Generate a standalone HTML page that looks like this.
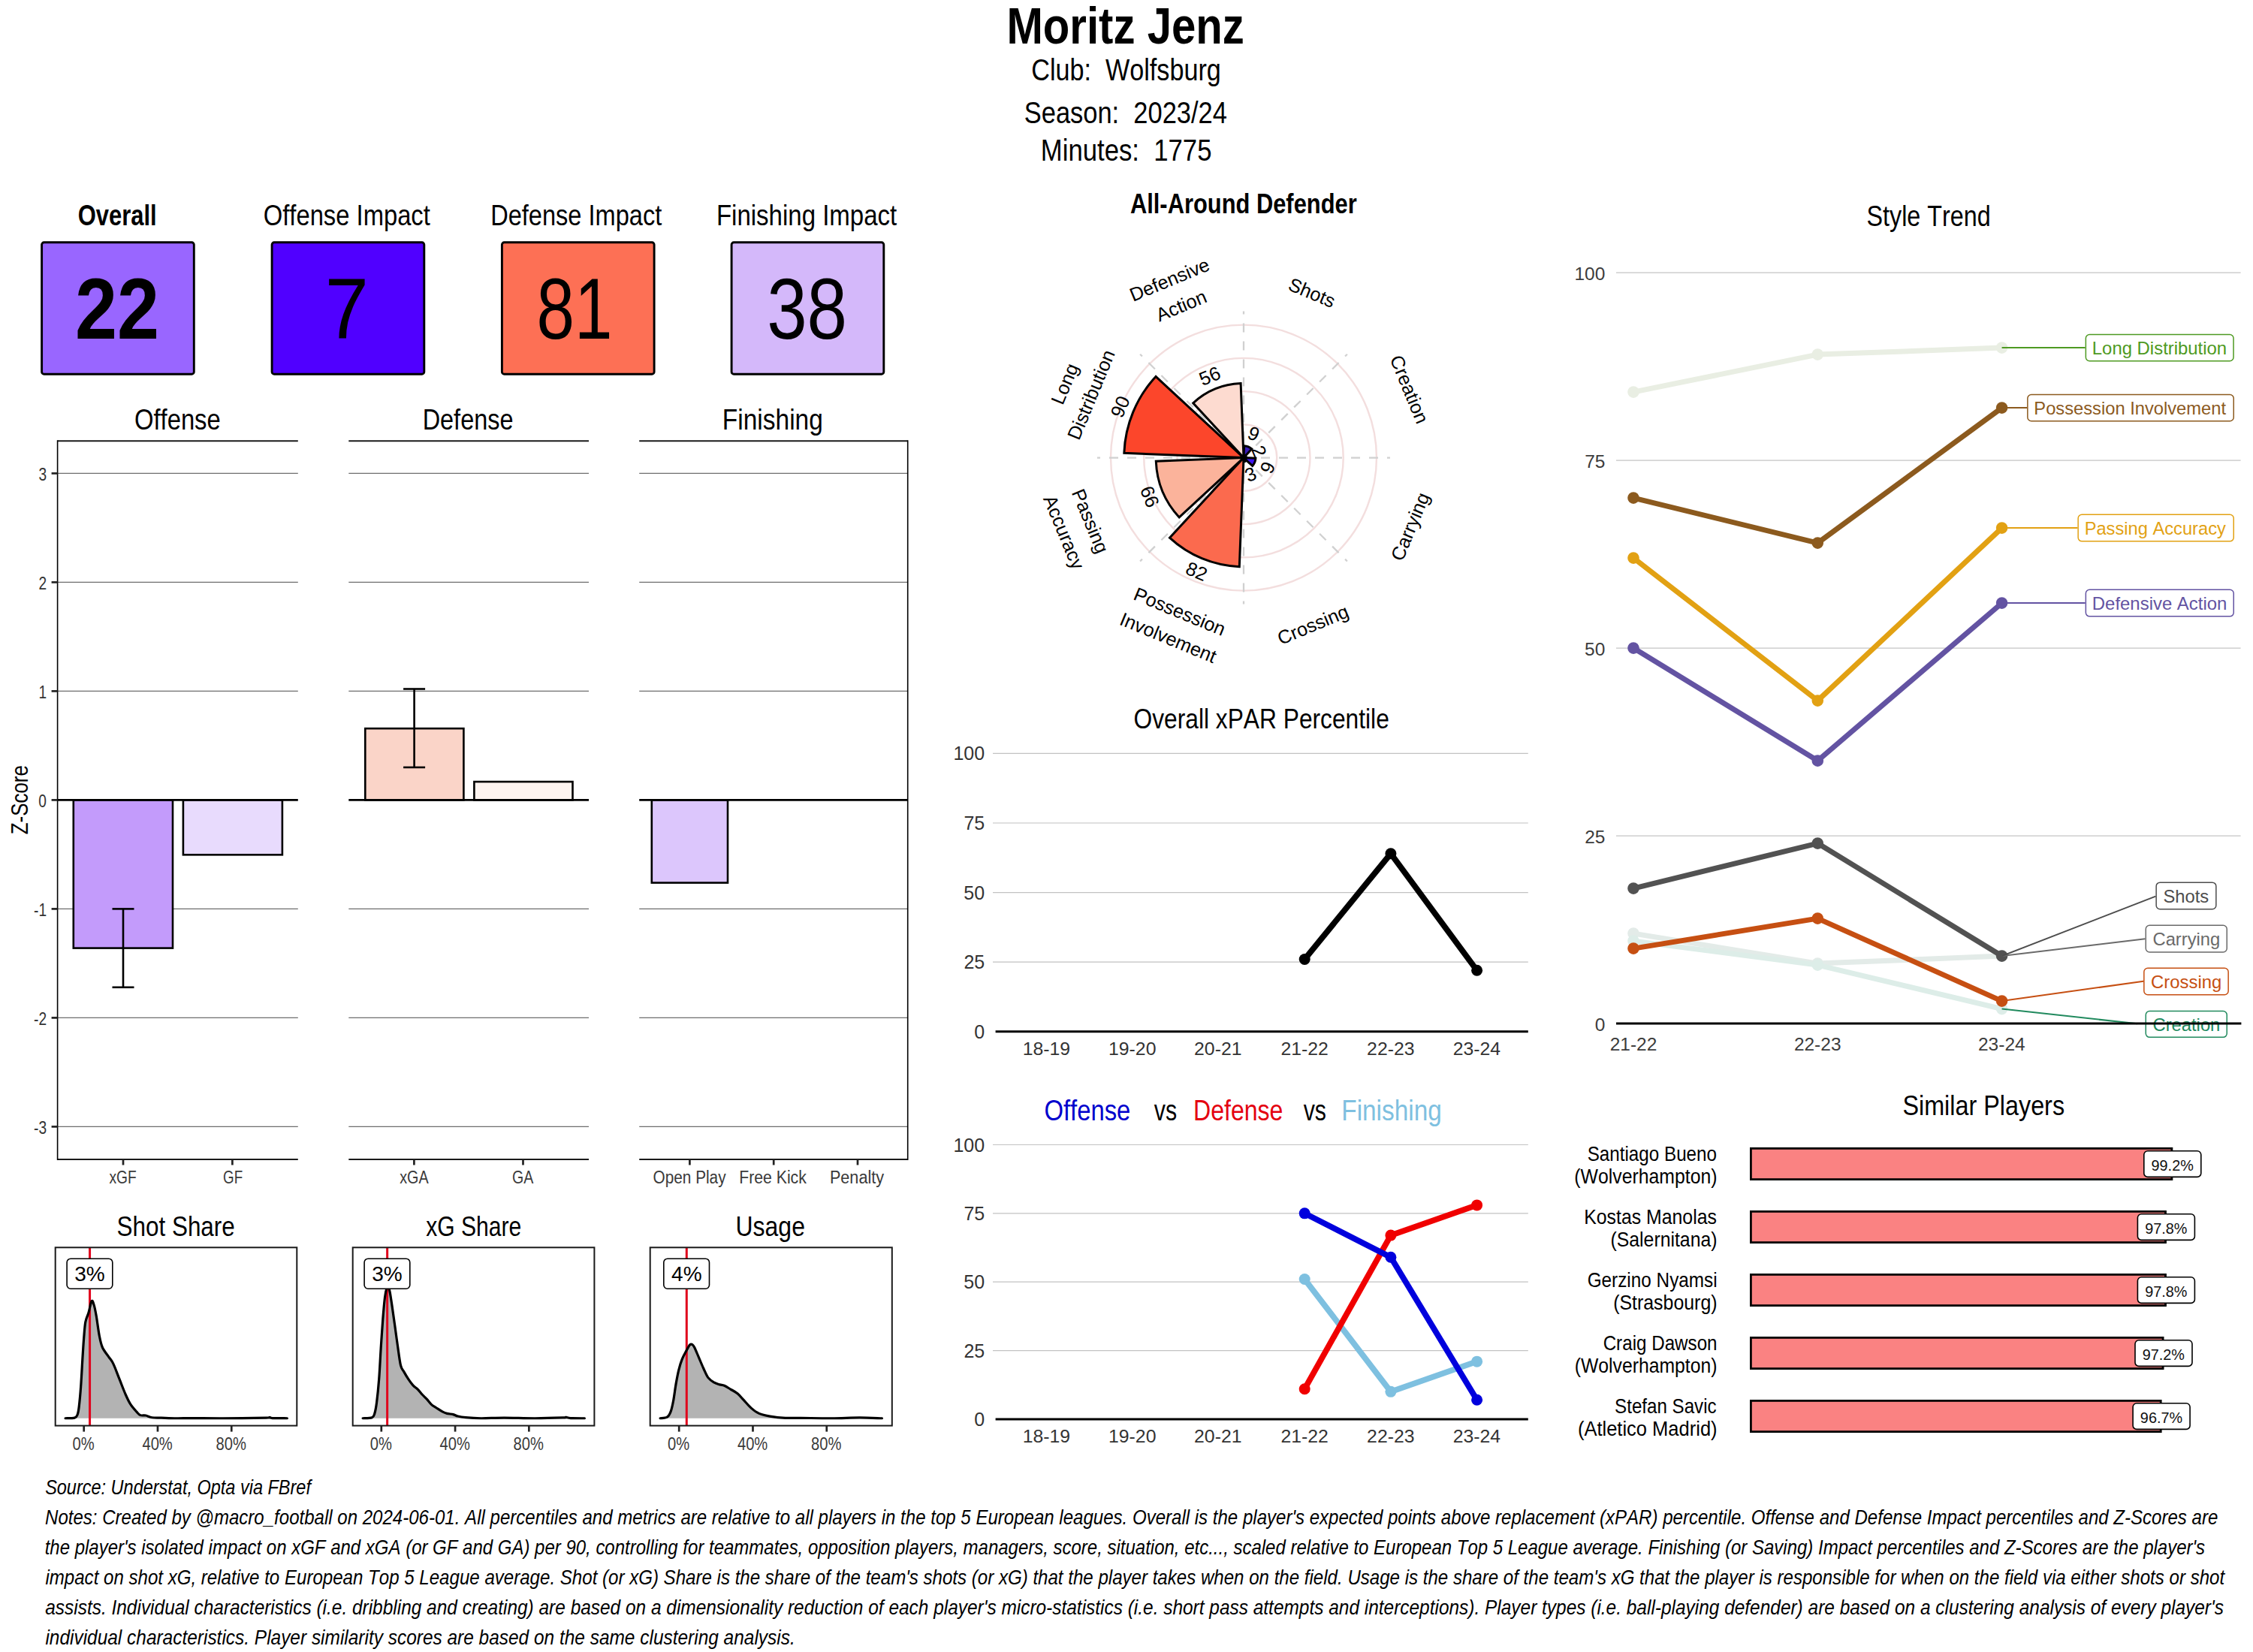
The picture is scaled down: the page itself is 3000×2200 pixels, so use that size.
<!DOCTYPE html>
<html><head><meta charset="utf-8"><style>
html,body{margin:0;padding:0;background:#fff;}
svg{display:block;font-family:"Liberation Sans", sans-serif;font-kerning:none;} text{white-space:pre;}
</style></head><body>
<svg width="3000" height="2200" viewBox="0 0 3000 2200">
<rect x="0" y="0" width="3000" height="2200" fill="#fff"/>
<text x="1340.41" y="58.30" font-size="68.02" font-weight="bold" font-style="normal" fill="#000" textLength="316.49" lengthAdjust="spacingAndGlyphs" >Moritz Jenz</text>
<text x="1373.27" y="106.70" font-size="41.28" font-weight="normal" font-style="normal" fill="#000" textLength="252.54" lengthAdjust="spacingAndGlyphs" >Club:  Wolfsburg</text>
<text x="1363.74" y="164.00" font-size="40.99" font-weight="normal" font-style="normal" fill="#000" textLength="270.17" lengthAdjust="spacingAndGlyphs" >Season:  2023/24</text>
<text x="1385.85" y="214.00" font-size="40.70" font-weight="normal" font-style="normal" fill="#000" textLength="227.60" lengthAdjust="spacingAndGlyphs" >Minutes:  1775</text>
<rect x="55.60" y="322.80" width="202.70" height="175.40" fill="#9966FF" stroke="#000" stroke-width="2.9" rx="3" />
<text x="103.73" y="300.10" font-size="39.24" font-weight="bold" font-style="normal" fill="#000" textLength="104.96" lengthAdjust="spacingAndGlyphs" >Overall</text>
<text x="100.11" y="451.00" font-size="114.29" font-weight="bold" font-style="normal" fill="#000" textLength="111.92" lengthAdjust="spacingAndGlyphs" >22</text>
<rect x="362.10" y="322.80" width="202.70" height="175.40" fill="#5000FF" stroke="#000" stroke-width="2.9" rx="3" />
<text x="350.75" y="300.10" font-size="39.24" font-weight="normal" font-style="normal" fill="#000" textLength="222.09" lengthAdjust="spacingAndGlyphs" >Offense Impact</text>
<text x="432.64" y="451.00" font-size="114.29" font-weight="normal" font-style="normal" fill="#000" textLength="58.11" lengthAdjust="spacingAndGlyphs" >7</text>
<rect x="668.40" y="322.80" width="202.70" height="175.40" fill="#FD7055" stroke="#000" stroke-width="2.9" rx="3" />
<text x="653.13" y="300.10" font-size="39.24" font-weight="normal" font-style="normal" fill="#000" textLength="228.11" lengthAdjust="spacingAndGlyphs" >Defense Impact</text>
<text x="714.56" y="451.00" font-size="114.29" font-weight="normal" font-style="normal" fill="#000" textLength="100.87" lengthAdjust="spacingAndGlyphs" >81</text>
<rect x="974.10" y="322.80" width="202.70" height="175.40" fill="#D4B8FA" stroke="#000" stroke-width="2.9" rx="3" />
<text x="953.89" y="300.10" font-size="39.24" font-weight="normal" font-style="normal" fill="#000" textLength="240.35" lengthAdjust="spacingAndGlyphs" >Finishing Impact</text>
<text x="1021.14" y="451.00" font-size="114.29" font-weight="normal" font-style="normal" fill="#000" textLength="106.94" lengthAdjust="spacingAndGlyphs" >38</text>
<text x="178.95" y="572.00" font-size="39.24" font-weight="normal" font-style="normal" fill="#000" textLength="114.81" lengthAdjust="spacingAndGlyphs" >Offense</text>
<text x="562.64" y="572.00" font-size="39.24" font-weight="normal" font-style="normal" fill="#000" textLength="120.91" lengthAdjust="spacingAndGlyphs" >Defense</text>
<text x="961.85" y="572.00" font-size="39.24" font-weight="normal" font-style="normal" fill="#000" textLength="134.01" lengthAdjust="spacingAndGlyphs" >Finishing</text>
<line x1="76.50" y1="630.40" x2="396.80" y2="630.40" stroke="#6E6E6E" stroke-width="1.1" />
<line x1="76.50" y1="775.40" x2="396.80" y2="775.40" stroke="#6E6E6E" stroke-width="1.1" />
<line x1="76.50" y1="920.40" x2="396.80" y2="920.40" stroke="#6E6E6E" stroke-width="1.1" />
<line x1="76.50" y1="1210.40" x2="396.80" y2="1210.40" stroke="#6E6E6E" stroke-width="1.1" />
<line x1="76.50" y1="1355.40" x2="396.80" y2="1355.40" stroke="#6E6E6E" stroke-width="1.1" />
<line x1="76.50" y1="1500.40" x2="396.80" y2="1500.40" stroke="#6E6E6E" stroke-width="1.1" />
<line x1="464.30" y1="630.40" x2="784.00" y2="630.40" stroke="#6E6E6E" stroke-width="1.1" />
<line x1="464.30" y1="775.40" x2="784.00" y2="775.40" stroke="#6E6E6E" stroke-width="1.1" />
<line x1="464.30" y1="920.40" x2="784.00" y2="920.40" stroke="#6E6E6E" stroke-width="1.1" />
<line x1="464.30" y1="1210.40" x2="784.00" y2="1210.40" stroke="#6E6E6E" stroke-width="1.1" />
<line x1="464.30" y1="1355.40" x2="784.00" y2="1355.40" stroke="#6E6E6E" stroke-width="1.1" />
<line x1="464.30" y1="1500.40" x2="784.00" y2="1500.40" stroke="#6E6E6E" stroke-width="1.1" />
<line x1="851.20" y1="630.40" x2="1208.70" y2="630.40" stroke="#6E6E6E" stroke-width="1.1" />
<line x1="851.20" y1="775.40" x2="1208.70" y2="775.40" stroke="#6E6E6E" stroke-width="1.1" />
<line x1="851.20" y1="920.40" x2="1208.70" y2="920.40" stroke="#6E6E6E" stroke-width="1.1" />
<line x1="851.20" y1="1210.40" x2="1208.70" y2="1210.40" stroke="#6E6E6E" stroke-width="1.1" />
<line x1="851.20" y1="1355.40" x2="1208.70" y2="1355.40" stroke="#6E6E6E" stroke-width="1.1" />
<line x1="851.20" y1="1500.40" x2="1208.70" y2="1500.40" stroke="#6E6E6E" stroke-width="1.1" />
<rect x="97.80" y="1065.40" width="132.20" height="197.20" fill="#C39BFB" stroke="#000" stroke-width="2.6" rx="0" />
<rect x="243.90" y="1065.40" width="132.00" height="72.93" fill="#E8DBFD" stroke="#000" stroke-width="2.6" rx="0" />
<rect x="486.30" y="970.14" width="131.10" height="95.26" fill="#FAD4C8" stroke="#000" stroke-width="2.6" rx="0" />
<rect x="631.40" y="1041.04" width="131.10" height="24.36" fill="#FDF4F0" stroke="#000" stroke-width="2.6" rx="0" />
<rect x="867.80" y="1065.40" width="101.20" height="110.20" fill="#DCC6FC" stroke="#000" stroke-width="2.6" rx="0" />
<line x1="76.50" y1="1065.40" x2="396.80" y2="1065.40" stroke="#000" stroke-width="2.6" />
<line x1="76.50" y1="587.20" x2="396.80" y2="587.20" stroke="#1A1A1A" stroke-width="1.9" />
<line x1="76.50" y1="1544.00" x2="396.80" y2="1544.00" stroke="#1A1A1A" stroke-width="1.9" />
<line x1="464.30" y1="1065.40" x2="784.00" y2="1065.40" stroke="#000" stroke-width="2.6" />
<line x1="464.30" y1="587.20" x2="784.00" y2="587.20" stroke="#1A1A1A" stroke-width="1.9" />
<line x1="464.30" y1="1544.00" x2="784.00" y2="1544.00" stroke="#1A1A1A" stroke-width="1.9" />
<line x1="851.20" y1="1065.40" x2="1208.70" y2="1065.40" stroke="#000" stroke-width="2.6" />
<line x1="851.20" y1="587.20" x2="1208.70" y2="587.20" stroke="#1A1A1A" stroke-width="1.9" />
<line x1="851.20" y1="1544.00" x2="1208.70" y2="1544.00" stroke="#1A1A1A" stroke-width="1.9" />
<line x1="76.60" y1="586.20" x2="76.60" y2="1545.00" stroke="#000" stroke-width="1.6" />
<line x1="1208.70" y1="586.20" x2="1208.70" y2="1545.00" stroke="#000" stroke-width="1.6" />
<line x1="164.00" y1="1210.40" x2="164.00" y2="1314.80" stroke="#000" stroke-width="2.6" />
<line x1="149.50" y1="1210.40" x2="178.50" y2="1210.40" stroke="#000" stroke-width="2.6" />
<line x1="149.50" y1="1314.80" x2="178.50" y2="1314.80" stroke="#000" stroke-width="2.6" />
<line x1="551.60" y1="917.50" x2="551.60" y2="1021.90" stroke="#000" stroke-width="2.6" />
<line x1="537.10" y1="917.50" x2="566.10" y2="917.50" stroke="#000" stroke-width="2.6" />
<line x1="537.10" y1="1021.90" x2="566.10" y2="1021.90" stroke="#000" stroke-width="2.6" />
<line x1="68.60" y1="630.40" x2="76.60" y2="630.40" stroke="#222" stroke-width="2.7" />
<text x="51.38" y="640.00" font-size="24.57" font-weight="normal" font-style="normal" fill="#333333" textLength="10.66" lengthAdjust="spacingAndGlyphs" >3</text>
<line x1="68.60" y1="775.40" x2="76.60" y2="775.40" stroke="#222" stroke-width="2.7" />
<text x="51.50" y="785.00" font-size="24.57" font-weight="normal" font-style="normal" fill="#333333" textLength="10.66" lengthAdjust="spacingAndGlyphs" >2</text>
<line x1="68.60" y1="920.40" x2="76.60" y2="920.40" stroke="#222" stroke-width="2.7" />
<text x="51.48" y="930.00" font-size="24.57" font-weight="normal" font-style="normal" fill="#333333" textLength="10.66" lengthAdjust="spacingAndGlyphs" >1</text>
<line x1="68.60" y1="1065.40" x2="76.60" y2="1065.40" stroke="#222" stroke-width="2.7" />
<text x="51.29" y="1075.00" font-size="24.57" font-weight="normal" font-style="normal" fill="#333333" textLength="10.66" lengthAdjust="spacingAndGlyphs" >0</text>
<line x1="68.60" y1="1210.40" x2="76.60" y2="1210.40" stroke="#222" stroke-width="2.7" />
<text x="45.09" y="1220.00" font-size="24.57" font-weight="normal" font-style="normal" fill="#333333" textLength="17.04" lengthAdjust="spacingAndGlyphs" >-1</text>
<line x1="68.60" y1="1355.40" x2="76.60" y2="1355.40" stroke="#222" stroke-width="2.7" />
<text x="45.12" y="1365.00" font-size="24.57" font-weight="normal" font-style="normal" fill="#333333" textLength="17.04" lengthAdjust="spacingAndGlyphs" >-2</text>
<line x1="68.60" y1="1500.40" x2="76.60" y2="1500.40" stroke="#222" stroke-width="2.7" />
<text x="45.00" y="1510.00" font-size="24.57" font-weight="normal" font-style="normal" fill="#333333" textLength="17.04" lengthAdjust="spacingAndGlyphs" >-3</text>
<line x1="164.00" y1="1544.00" x2="164.00" y2="1551.50" stroke="#222" stroke-width="2.7" />
<text x="145.48" y="1575.80" font-size="24.42" font-weight="normal" font-style="normal" fill="#3A3A3A" textLength="36.28" lengthAdjust="spacingAndGlyphs" >xGF</text>
<line x1="309.40" y1="1544.00" x2="309.40" y2="1551.50" stroke="#222" stroke-width="2.7" />
<text x="297.05" y="1575.80" font-size="24.42" font-weight="normal" font-style="normal" fill="#3A3A3A" textLength="26.10" lengthAdjust="spacingAndGlyphs" >GF</text>
<line x1="551.40" y1="1544.00" x2="551.40" y2="1551.50" stroke="#222" stroke-width="2.7" />
<text x="532.18" y="1575.80" font-size="24.42" font-weight="normal" font-style="normal" fill="#3A3A3A" textLength="38.36" lengthAdjust="spacingAndGlyphs" >xGA</text>
<line x1="696.50" y1="1544.00" x2="696.50" y2="1551.50" stroke="#222" stroke-width="2.7" />
<text x="682.01" y="1575.80" font-size="24.42" font-weight="normal" font-style="normal" fill="#3A3A3A" textLength="28.32" lengthAdjust="spacingAndGlyphs" >GA</text>
<line x1="918.40" y1="1544.00" x2="918.40" y2="1551.50" stroke="#222" stroke-width="2.7" />
<text x="869.62" y="1575.80" font-size="24.42" font-weight="normal" font-style="normal" fill="#3A3A3A" textLength="96.92" lengthAdjust="spacingAndGlyphs" >Open Play</text>
<line x1="1030.20" y1="1544.00" x2="1030.20" y2="1551.50" stroke="#222" stroke-width="2.7" />
<text x="984.16" y="1575.80" font-size="24.42" font-weight="normal" font-style="normal" fill="#3A3A3A" textLength="89.71" lengthAdjust="spacingAndGlyphs" >Free Kick</text>
<line x1="1142.00" y1="1544.00" x2="1142.00" y2="1551.50" stroke="#222" stroke-width="2.7" />
<text x="1104.93" y="1575.80" font-size="24.42" font-weight="normal" font-style="normal" fill="#3A3A3A" textLength="72.12" lengthAdjust="spacingAndGlyphs" >Penalty</text>
<g transform="translate(26.60,1065.40) rotate(-90.00)">
<text x="-45.95" y="10.75" font-size="31.25" font-weight="normal" font-style="normal" fill="#000" textLength="92.24" lengthAdjust="spacingAndGlyphs" >Z-Score</text>
</g>
<path d="M87.04,1888.74 C89.10,1888.64 96.72,1888.91 99.39,1888.13 C102.07,1887.34 102.14,1886.41 103.10,1884.01 C104.06,1881.61 104.40,1879.89 105.16,1873.72 C105.91,1867.54 106.80,1858.28 107.63,1846.96 C108.45,1835.65 109.41,1816.78 110.09,1805.80 C110.78,1794.83 111.12,1788.65 111.74,1781.11 C112.36,1773.56 112.77,1766.01 113.80,1760.53 C114.83,1755.04 116.54,1752.81 117.92,1748.18 C119.29,1743.55 120.83,1734.46 122.03,1732.74 C123.23,1731.03 124.09,1734.63 125.12,1737.89 C126.15,1741.15 127.00,1745.43 128.21,1752.29 C129.41,1759.15 130.95,1772.02 132.32,1779.05 C133.69,1786.08 134.38,1789.85 136.44,1794.48 C138.50,1799.12 142.27,1803.23 144.67,1806.83 C147.07,1810.43 148.44,1811.12 150.84,1816.09 C153.24,1821.07 156.33,1829.81 159.08,1836.67 C161.82,1843.53 164.91,1851.77 167.31,1857.25 C169.71,1862.74 171.08,1865.83 173.48,1869.60 C175.88,1873.38 179.48,1877.39 181.71,1879.89 C183.94,1882.40 184.80,1883.77 186.86,1884.63 C188.92,1885.48 191.49,1884.52 194.06,1885.04 C196.64,1885.55 198.86,1887.20 202.29,1887.71 C205.72,1888.23 209.15,1887.95 214.64,1888.13 C220.13,1888.30 228.36,1888.67 235.22,1888.74 C242.08,1888.81 245.51,1888.54 255.80,1888.54 C266.09,1888.54 280.50,1888.81 296.96,1888.74 C313.43,1888.67 344.30,1888.33 354.59,1888.13 C364.88,1887.92 357.33,1887.44 358.71,1887.51 C360.08,1887.58 358.88,1888.33 362.82,1888.54 C366.77,1888.74 379.11,1888.71 382.37,1888.74 L382.37,1888.74 L87.04,1888.74 Z" fill="#B3B3B3" stroke="none"/>
<line x1="119.56" y1="1661.30" x2="119.56" y2="1898.40" stroke="#E0001B" stroke-width="3" />
<path d="M87.04,1888.74 C89.10,1888.64 96.72,1888.91 99.39,1888.13 C102.07,1887.34 102.14,1886.41 103.10,1884.01 C104.06,1881.61 104.40,1879.89 105.16,1873.72 C105.91,1867.54 106.80,1858.28 107.63,1846.96 C108.45,1835.65 109.41,1816.78 110.09,1805.80 C110.78,1794.83 111.12,1788.65 111.74,1781.11 C112.36,1773.56 112.77,1766.01 113.80,1760.53 C114.83,1755.04 116.54,1752.81 117.92,1748.18 C119.29,1743.55 120.83,1734.46 122.03,1732.74 C123.23,1731.03 124.09,1734.63 125.12,1737.89 C126.15,1741.15 127.00,1745.43 128.21,1752.29 C129.41,1759.15 130.95,1772.02 132.32,1779.05 C133.69,1786.08 134.38,1789.85 136.44,1794.48 C138.50,1799.12 142.27,1803.23 144.67,1806.83 C147.07,1810.43 148.44,1811.12 150.84,1816.09 C153.24,1821.07 156.33,1829.81 159.08,1836.67 C161.82,1843.53 164.91,1851.77 167.31,1857.25 C169.71,1862.74 171.08,1865.83 173.48,1869.60 C175.88,1873.38 179.48,1877.39 181.71,1879.89 C183.94,1882.40 184.80,1883.77 186.86,1884.63 C188.92,1885.48 191.49,1884.52 194.06,1885.04 C196.64,1885.55 198.86,1887.20 202.29,1887.71 C205.72,1888.23 209.15,1887.95 214.64,1888.13 C220.13,1888.30 228.36,1888.67 235.22,1888.74 C242.08,1888.81 245.51,1888.54 255.80,1888.54 C266.09,1888.54 280.50,1888.81 296.96,1888.74 C313.43,1888.67 344.30,1888.33 354.59,1888.13 C364.88,1887.92 357.33,1887.44 358.71,1887.51 C360.08,1887.58 358.88,1888.33 362.82,1888.54 C366.77,1888.74 379.11,1888.71 382.37,1888.74" fill="none" stroke="#000" stroke-width="3.2" stroke-linejoin="round" stroke-linecap="round"/>
<rect x="73.70" y="1661.30" width="321.60" height="237.30" fill="none" stroke="#1A1A1A" stroke-width="2" rx="0" />
<rect x="89.10" y="1676.20" width="60.70" height="40.00" fill="#fff" stroke="#000" stroke-width="1.6" rx="5" />
<text x="99.18" y="1706.00" font-size="28.00" font-weight="normal" font-style="normal" fill="#000" textLength="40.47" lengthAdjust="spacingAndGlyphs" >3%</text>
<line x1="111.70" y1="1898.60" x2="111.70" y2="1906.60" stroke="#222" stroke-width="2.7" />
<text x="96.60" y="1931.00" font-size="24.29" font-weight="normal" font-style="normal" fill="#3A3A3A" textLength="29.13" lengthAdjust="spacingAndGlyphs" >0%</text>
<line x1="209.98" y1="1898.60" x2="209.98" y2="1906.60" stroke="#222" stroke-width="2.7" />
<text x="189.44" y="1931.00" font-size="24.29" font-weight="normal" font-style="normal" fill="#3A3A3A" textLength="40.34" lengthAdjust="spacingAndGlyphs" >40%</text>
<line x1="308.26" y1="1898.60" x2="308.26" y2="1906.60" stroke="#222" stroke-width="2.7" />
<text x="287.51" y="1931.00" font-size="24.29" font-weight="normal" font-style="normal" fill="#3A3A3A" textLength="40.34" lengthAdjust="spacingAndGlyphs" >80%</text>
<text x="155.57" y="1645.70" font-size="37.79" font-weight="normal" font-style="normal" fill="#000" textLength="157.22" lengthAdjust="spacingAndGlyphs" >Shot Share</text>
<path d="M483.07,1888.74 C485.13,1888.57 492.78,1888.85 495.42,1887.71 C498.06,1886.58 497.89,1885.31 498.92,1881.95 C499.95,1878.59 500.64,1875.09 501.60,1867.54 C502.56,1860.00 503.76,1848.68 504.68,1836.67 C505.61,1824.67 506.30,1808.89 507.15,1795.51 C508.01,1782.14 508.94,1767.73 509.83,1756.41 C510.72,1745.09 511.65,1734.46 512.50,1727.60 C513.36,1720.74 514.22,1717.65 514.97,1715.25 C515.73,1712.85 516.35,1712.33 517.03,1713.19 C517.72,1714.05 518.23,1715.94 519.09,1720.40 C519.95,1724.85 521.08,1732.57 522.18,1739.95 C523.27,1747.32 524.47,1756.07 525.68,1764.64 C526.88,1773.22 528.08,1782.48 529.38,1791.40 C530.68,1800.32 532.12,1812.32 533.50,1818.15 C534.87,1823.98 535.90,1823.30 537.61,1826.38 C539.33,1829.47 541.73,1833.59 543.79,1836.67 C545.84,1839.76 547.90,1842.68 549.96,1844.91 C552.02,1847.14 554.08,1847.99 556.13,1850.05 C558.19,1852.11 560.25,1855.03 562.31,1857.25 C564.37,1859.48 566.42,1861.20 568.48,1863.43 C570.54,1865.66 572.60,1868.75 574.66,1870.63 C576.71,1872.52 578.43,1873.20 580.83,1874.75 C583.23,1876.29 586.66,1878.62 589.06,1879.89 C591.46,1881.16 592.84,1881.75 595.24,1882.36 C597.64,1882.98 601.07,1882.98 603.47,1883.60 C605.87,1884.21 606.90,1885.38 609.64,1886.07 C612.39,1886.75 614.79,1887.27 619.93,1887.71 C625.08,1888.16 631.94,1888.67 640.51,1888.74 C649.09,1888.81 659.38,1888.13 671.38,1888.13 C683.39,1888.13 699.51,1888.78 712.54,1888.74 C725.58,1888.71 742.73,1888.16 749.59,1887.92 C756.45,1887.68 751.99,1887.20 753.71,1887.30 C755.42,1887.40 755.76,1888.30 759.88,1888.54 C764.00,1888.78 775.31,1888.71 778.40,1888.74 L778.40,1888.74 L483.07,1888.74 Z" fill="#B3B3B3" stroke="none"/>
<line x1="515.66" y1="1661.30" x2="515.66" y2="1898.40" stroke="#E0001B" stroke-width="3" />
<path d="M483.07,1888.74 C485.13,1888.57 492.78,1888.85 495.42,1887.71 C498.06,1886.58 497.89,1885.31 498.92,1881.95 C499.95,1878.59 500.64,1875.09 501.60,1867.54 C502.56,1860.00 503.76,1848.68 504.68,1836.67 C505.61,1824.67 506.30,1808.89 507.15,1795.51 C508.01,1782.14 508.94,1767.73 509.83,1756.41 C510.72,1745.09 511.65,1734.46 512.50,1727.60 C513.36,1720.74 514.22,1717.65 514.97,1715.25 C515.73,1712.85 516.35,1712.33 517.03,1713.19 C517.72,1714.05 518.23,1715.94 519.09,1720.40 C519.95,1724.85 521.08,1732.57 522.18,1739.95 C523.27,1747.32 524.47,1756.07 525.68,1764.64 C526.88,1773.22 528.08,1782.48 529.38,1791.40 C530.68,1800.32 532.12,1812.32 533.50,1818.15 C534.87,1823.98 535.90,1823.30 537.61,1826.38 C539.33,1829.47 541.73,1833.59 543.79,1836.67 C545.84,1839.76 547.90,1842.68 549.96,1844.91 C552.02,1847.14 554.08,1847.99 556.13,1850.05 C558.19,1852.11 560.25,1855.03 562.31,1857.25 C564.37,1859.48 566.42,1861.20 568.48,1863.43 C570.54,1865.66 572.60,1868.75 574.66,1870.63 C576.71,1872.52 578.43,1873.20 580.83,1874.75 C583.23,1876.29 586.66,1878.62 589.06,1879.89 C591.46,1881.16 592.84,1881.75 595.24,1882.36 C597.64,1882.98 601.07,1882.98 603.47,1883.60 C605.87,1884.21 606.90,1885.38 609.64,1886.07 C612.39,1886.75 614.79,1887.27 619.93,1887.71 C625.08,1888.16 631.94,1888.67 640.51,1888.74 C649.09,1888.81 659.38,1888.13 671.38,1888.13 C683.39,1888.13 699.51,1888.78 712.54,1888.74 C725.58,1888.71 742.73,1888.16 749.59,1887.92 C756.45,1887.68 751.99,1887.20 753.71,1887.30 C755.42,1887.40 755.76,1888.30 759.88,1888.54 C764.00,1888.78 775.31,1888.71 778.40,1888.74" fill="none" stroke="#000" stroke-width="3.2" stroke-linejoin="round" stroke-linecap="round"/>
<rect x="469.70" y="1661.30" width="321.70" height="237.30" fill="none" stroke="#1A1A1A" stroke-width="2" rx="0" />
<rect x="485.10" y="1676.20" width="60.70" height="40.00" fill="#fff" stroke="#000" stroke-width="1.6" rx="5" />
<text x="495.18" y="1706.00" font-size="28.00" font-weight="normal" font-style="normal" fill="#000" textLength="40.47" lengthAdjust="spacingAndGlyphs" >3%</text>
<line x1="507.80" y1="1898.60" x2="507.80" y2="1906.60" stroke="#222" stroke-width="2.7" />
<text x="492.70" y="1931.00" font-size="24.29" font-weight="normal" font-style="normal" fill="#3A3A3A" textLength="29.13" lengthAdjust="spacingAndGlyphs" >0%</text>
<line x1="606.08" y1="1898.60" x2="606.08" y2="1906.60" stroke="#222" stroke-width="2.7" />
<text x="585.54" y="1931.00" font-size="24.29" font-weight="normal" font-style="normal" fill="#3A3A3A" textLength="40.34" lengthAdjust="spacingAndGlyphs" >40%</text>
<line x1="704.36" y1="1898.60" x2="704.36" y2="1906.60" stroke="#222" stroke-width="2.7" />
<text x="683.61" y="1931.00" font-size="24.29" font-weight="normal" font-style="normal" fill="#3A3A3A" textLength="40.34" lengthAdjust="spacingAndGlyphs" >80%</text>
<text x="567.16" y="1645.70" font-size="37.79" font-weight="normal" font-style="normal" fill="#000" textLength="127.18" lengthAdjust="spacingAndGlyphs" >xG Share</text>
<path d="M879.10,1888.74 C880.65,1888.47 886.03,1888.57 888.36,1887.10 C890.70,1885.62 891.73,1883.49 893.10,1879.89 C894.47,1876.29 895.43,1871.66 896.60,1865.49 C897.76,1859.31 898.89,1849.71 900.09,1842.85 C901.30,1835.99 902.43,1829.81 903.80,1824.33 C905.17,1818.84 906.61,1814.21 908.33,1809.92 C910.04,1805.63 912.37,1801.76 914.09,1798.60 C915.80,1795.44 917.31,1792.32 918.62,1790.99 C919.92,1789.65 920.88,1789.99 921.91,1790.57 C922.94,1791.16 923.35,1791.60 924.79,1794.48 C926.23,1797.37 928.56,1803.23 930.55,1807.86 C932.54,1812.49 934.67,1817.81 936.73,1822.27 C938.79,1826.73 940.50,1831.46 942.90,1834.62 C945.30,1837.77 948.56,1839.66 951.13,1841.20 C953.71,1842.75 956.11,1843.19 958.34,1843.88 C960.57,1844.56 962.11,1844.29 964.51,1845.32 C966.91,1846.35 969.83,1848.30 972.74,1850.05 C975.66,1851.80 979.09,1853.41 982.00,1855.81 C984.92,1858.21 987.15,1861.20 990.24,1864.46 C993.32,1867.72 997.10,1872.38 1000.53,1875.37 C1003.96,1878.35 1006.70,1880.58 1010.82,1882.36 C1014.93,1884.15 1019.39,1885.07 1025.22,1886.07 C1031.05,1887.06 1038.94,1887.95 1045.80,1888.33 C1052.66,1888.71 1056.09,1888.26 1066.38,1888.33 C1076.67,1888.40 1094.51,1888.81 1107.54,1888.74 C1120.58,1888.67 1133.44,1887.92 1144.59,1887.92 C1155.74,1887.92 1169.46,1888.61 1174.43,1888.74 L1174.43,1888.74 L879.10,1888.74 Z" fill="#B3B3B3" stroke="none"/>
<line x1="914.27" y1="1661.30" x2="914.27" y2="1898.40" stroke="#E0001B" stroke-width="3" />
<path d="M879.10,1888.74 C880.65,1888.47 886.03,1888.57 888.36,1887.10 C890.70,1885.62 891.73,1883.49 893.10,1879.89 C894.47,1876.29 895.43,1871.66 896.60,1865.49 C897.76,1859.31 898.89,1849.71 900.09,1842.85 C901.30,1835.99 902.43,1829.81 903.80,1824.33 C905.17,1818.84 906.61,1814.21 908.33,1809.92 C910.04,1805.63 912.37,1801.76 914.09,1798.60 C915.80,1795.44 917.31,1792.32 918.62,1790.99 C919.92,1789.65 920.88,1789.99 921.91,1790.57 C922.94,1791.16 923.35,1791.60 924.79,1794.48 C926.23,1797.37 928.56,1803.23 930.55,1807.86 C932.54,1812.49 934.67,1817.81 936.73,1822.27 C938.79,1826.73 940.50,1831.46 942.90,1834.62 C945.30,1837.77 948.56,1839.66 951.13,1841.20 C953.71,1842.75 956.11,1843.19 958.34,1843.88 C960.57,1844.56 962.11,1844.29 964.51,1845.32 C966.91,1846.35 969.83,1848.30 972.74,1850.05 C975.66,1851.80 979.09,1853.41 982.00,1855.81 C984.92,1858.21 987.15,1861.20 990.24,1864.46 C993.32,1867.72 997.10,1872.38 1000.53,1875.37 C1003.96,1878.35 1006.70,1880.58 1010.82,1882.36 C1014.93,1884.15 1019.39,1885.07 1025.22,1886.07 C1031.05,1887.06 1038.94,1887.95 1045.80,1888.33 C1052.66,1888.71 1056.09,1888.26 1066.38,1888.33 C1076.67,1888.40 1094.51,1888.81 1107.54,1888.74 C1120.58,1888.67 1133.44,1887.92 1144.59,1887.92 C1155.74,1887.92 1169.46,1888.61 1174.43,1888.74" fill="none" stroke="#000" stroke-width="3.2" stroke-linejoin="round" stroke-linecap="round"/>
<rect x="865.70" y="1661.30" width="322.10" height="237.30" fill="none" stroke="#1A1A1A" stroke-width="2" rx="0" />
<rect x="883.80" y="1676.20" width="60.70" height="40.00" fill="#fff" stroke="#000" stroke-width="1.6" rx="5" />
<text x="894.09" y="1706.00" font-size="28.00" font-weight="normal" font-style="normal" fill="#000" textLength="40.47" lengthAdjust="spacingAndGlyphs" >4%</text>
<line x1="904.20" y1="1898.60" x2="904.20" y2="1906.60" stroke="#222" stroke-width="2.7" />
<text x="889.10" y="1931.00" font-size="24.29" font-weight="normal" font-style="normal" fill="#3A3A3A" textLength="29.13" lengthAdjust="spacingAndGlyphs" >0%</text>
<line x1="1002.48" y1="1898.60" x2="1002.48" y2="1906.60" stroke="#222" stroke-width="2.7" />
<text x="981.94" y="1931.00" font-size="24.29" font-weight="normal" font-style="normal" fill="#3A3A3A" textLength="40.34" lengthAdjust="spacingAndGlyphs" >40%</text>
<line x1="1100.76" y1="1898.60" x2="1100.76" y2="1906.60" stroke="#222" stroke-width="2.7" />
<text x="1080.01" y="1931.00" font-size="24.29" font-weight="normal" font-style="normal" fill="#3A3A3A" textLength="40.34" lengthAdjust="spacingAndGlyphs" >80%</text>
<text x="979.53" y="1645.70" font-size="37.79" font-weight="normal" font-style="normal" fill="#000" textLength="92.39" lengthAdjust="spacingAndGlyphs" >Usage</text>
<text x="1504.93" y="284.00" font-size="37.79" font-weight="bold" font-style="normal" fill="#000" textLength="301.74" lengthAdjust="spacingAndGlyphs" >All-Around Defender</text>
<circle cx="1656.0" cy="609.6" r="44.25" fill="none" stroke="#F3DEDE" stroke-width="2.4"/>
<circle cx="1656.0" cy="609.6" r="88.50" fill="none" stroke="#F3DEDE" stroke-width="2.4"/>
<circle cx="1656.0" cy="609.6" r="132.75" fill="none" stroke="#F3DEDE" stroke-width="2.4"/>
<circle cx="1656.0" cy="609.6" r="177.00" fill="none" stroke="#F3DEDE" stroke-width="2.4"/>
<line x1="1656.00" y1="609.60" x2="1656.00" y2="414.60" stroke="#D0D0D0" stroke-width="2.3" stroke-dasharray="12,12" stroke-dashoffset="1"/>
<line x1="1656.00" y1="609.60" x2="1793.89" y2="471.71" stroke="#D0D0D0" stroke-width="2.3" stroke-dasharray="12,12" stroke-dashoffset="1"/>
<line x1="1656.00" y1="609.60" x2="1851.00" y2="609.60" stroke="#D0D0D0" stroke-width="2.3" stroke-dasharray="12,12" stroke-dashoffset="1"/>
<line x1="1656.00" y1="609.60" x2="1793.89" y2="747.49" stroke="#D0D0D0" stroke-width="2.3" stroke-dasharray="12,12" stroke-dashoffset="1"/>
<line x1="1656.00" y1="609.60" x2="1656.00" y2="804.60" stroke="#D0D0D0" stroke-width="2.3" stroke-dasharray="12,12" stroke-dashoffset="1"/>
<line x1="1656.00" y1="609.60" x2="1518.11" y2="747.49" stroke="#D0D0D0" stroke-width="2.3" stroke-dasharray="12,12" stroke-dashoffset="1"/>
<line x1="1656.00" y1="609.60" x2="1461.00" y2="609.60" stroke="#D0D0D0" stroke-width="2.3" stroke-dasharray="12,12" stroke-dashoffset="1"/>
<line x1="1656.00" y1="609.60" x2="1518.11" y2="471.71" stroke="#D0D0D0" stroke-width="2.3" stroke-dasharray="12,12" stroke-dashoffset="1"/>
<path d="M1656.0,609.6 L1656.63,593.68 A15.93,15.93 0 0 1 1666.81,597.90 Z" fill="#3A1CB8" stroke="#000" stroke-width="3" stroke-linejoin="miter"/>
<path d="M1656.0,609.6 L1658.60,607.20 A3.54,3.54 0 0 1 1659.54,609.46 Z" fill="#4010E8" stroke="#000" stroke-width="3" stroke-linejoin="miter"/>
<path d="M1656.0,609.6 L1671.92,610.23 A15.93,15.93 0 0 1 1667.70,620.41 Z" fill="#3D14F0" stroke="#000" stroke-width="3" stroke-linejoin="miter"/>
<path d="M1656.0,609.6 L1659.60,613.50 A5.31,5.31 0 0 1 1656.21,614.91 Z" fill="#4010E8" stroke="#000" stroke-width="3" stroke-linejoin="miter"/>
<path d="M1656.0,609.6 L1650.30,754.63 A145.14,145.14 0 0 1 1557.48,716.18 Z" fill="#FB6A4E" stroke="#000" stroke-width="3" stroke-linejoin="miter"/>
<path d="M1656.0,609.6 L1570.22,688.90 A116.82,116.82 0 0 1 1539.27,614.19 Z" fill="#FBB39B" stroke="#000" stroke-width="3" stroke-linejoin="miter"/>
<path d="M1656.0,609.6 L1496.82,603.35 A159.30,159.30 0 0 1 1539.02,501.47 Z" fill="#FC462B" stroke="#000" stroke-width="3" stroke-linejoin="miter"/>
<path d="M1656.0,609.6 L1588.72,536.81 A99.12,99.12 0 0 1 1652.11,510.56 Z" fill="#FDDBD0" stroke="#000" stroke-width="3" stroke-linejoin="miter"/>
<g transform="translate(1669.21,577.71) rotate(22.50)">
<text x="-7.03" y="8.70" font-size="25.30" font-weight="normal" font-style="normal" fill="#000" textLength="14.07" lengthAdjust="spacingAndGlyphs" >9</text>
</g>
<g transform="translate(1747.00,389.90) rotate(22.50)">
<text x="-32.47" y="8.70" font-size="25.30" font-weight="normal" font-style="normal" fill="#000" textLength="64.70" lengthAdjust="spacingAndGlyphs" >Shots</text>
</g>
<g transform="translate(1676.44,601.13) rotate(67.50)">
<text x="-7.04" y="8.70" font-size="25.30" font-weight="normal" font-style="normal" fill="#000" textLength="14.07" lengthAdjust="spacingAndGlyphs" >2</text>
</g>
<g transform="translate(1876.51,518.26) rotate(67.50)">
<text x="-47.64" y="8.70" font-size="25.30" font-weight="normal" font-style="normal" fill="#000" textLength="95.63" lengthAdjust="spacingAndGlyphs" >Creation</text>
</g>
<g transform="translate(1687.89,622.81) rotate(-67.50)">
<text x="-7.03" y="8.70" font-size="25.30" font-weight="normal" font-style="normal" fill="#000" textLength="14.07" lengthAdjust="spacingAndGlyphs" >9</text>
</g>
<g transform="translate(1877.66,701.41) rotate(-67.50)">
<text x="-47.63" y="8.70" font-size="25.30" font-weight="normal" font-style="normal" fill="#000" textLength="95.60" lengthAdjust="spacingAndGlyphs" >Carrying</text>
</g>
<g transform="translate(1665.14,631.68) rotate(-22.50)">
<text x="-6.96" y="8.70" font-size="25.30" font-weight="normal" font-style="normal" fill="#000" textLength="14.07" lengthAdjust="spacingAndGlyphs" >3</text>
</g>
<g transform="translate(1748.15,832.07) rotate(-22.50)">
<text x="-49.74" y="8.70" font-size="25.30" font-weight="normal" font-style="normal" fill="#000" textLength="99.83" lengthAdjust="spacingAndGlyphs" >Crossing</text>
</g>
<g transform="translate(1593.35,760.86) rotate(22.50)">
<text x="-13.98" y="8.70" font-size="25.30" font-weight="normal" font-style="normal" fill="#000" textLength="28.14" lengthAdjust="spacingAndGlyphs" >82</text>
</g>
<g transform="translate(1563.85,832.07) rotate(22.50)">
<text x="-64.91" y="-10.30" font-size="25.30" font-weight="normal" font-style="normal" fill="#000" textLength="129.38" lengthAdjust="spacingAndGlyphs" >Possession</text>
</g>
<g transform="translate(1563.85,832.07) rotate(22.50)">
<text x="-69.28" y="27.70" font-size="25.30" font-weight="normal" font-style="normal" fill="#000" textLength="136.41" lengthAdjust="spacingAndGlyphs" >Involvement</text>
</g>
<g transform="translate(1530.90,661.42) rotate(67.50)">
<text x="-14.16" y="8.70" font-size="25.30" font-weight="normal" font-style="normal" fill="#000" textLength="28.14" lengthAdjust="spacingAndGlyphs" >66</text>
</g>
<g transform="translate(1434.34,701.41) rotate(67.50)">
<text x="-45.23" y="-10.30" font-size="25.30" font-weight="normal" font-style="normal" fill="#000" textLength="90.01" lengthAdjust="spacingAndGlyphs" >Passing</text>
</g>
<g transform="translate(1434.34,701.41) rotate(67.50)">
<text x="-52.02" y="27.70" font-size="25.30" font-weight="normal" font-style="normal" fill="#000" textLength="104.04" lengthAdjust="spacingAndGlyphs" >Accuracy</text>
</g>
<g transform="translate(1491.66,541.53) rotate(-67.50)">
<text x="-14.17" y="8.70" font-size="25.30" font-weight="normal" font-style="normal" fill="#000" textLength="28.14" lengthAdjust="spacingAndGlyphs" >90</text>
</g>
<g transform="translate(1435.49,518.26) rotate(-67.50)">
<text x="-28.36" y="-10.30" font-size="25.30" font-weight="normal" font-style="normal" fill="#000" textLength="56.28" lengthAdjust="spacingAndGlyphs" >Long</text>
</g>
<g transform="translate(1435.49,518.26) rotate(-67.50)">
<text x="-63.49" y="27.70" font-size="25.30" font-weight="normal" font-style="normal" fill="#000" textLength="126.55" lengthAdjust="spacingAndGlyphs" >Distribution</text>
</g>
<g transform="translate(1610.96,500.85) rotate(-22.50)">
<text x="-14.02" y="8.70" font-size="25.30" font-weight="normal" font-style="normal" fill="#000" textLength="28.14" lengthAdjust="spacingAndGlyphs" >56</text>
</g>
<g transform="translate(1565.00,389.90) rotate(-22.50)">
<text x="-56.73" y="-10.30" font-size="25.30" font-weight="normal" font-style="normal" fill="#000" textLength="112.50" lengthAdjust="spacingAndGlyphs" >Defensive</text>
</g>
<g transform="translate(1565.00,389.90) rotate(-22.50)">
<text x="-34.36" y="27.70" font-size="25.30" font-weight="normal" font-style="normal" fill="#000" textLength="70.32" lengthAdjust="spacingAndGlyphs" >Action</text>
</g>
<text x="1509.50" y="969.70" font-size="36.34" font-weight="normal" font-style="normal" fill="#000" textLength="340.31" lengthAdjust="spacingAndGlyphs" >Overall xPAR Percentile</text>
<line x1="1322.00" y1="1281.20" x2="2034.80" y2="1281.20" stroke="#C2C2C2" stroke-width="1.2" />
<line x1="1322.00" y1="1188.60" x2="2034.80" y2="1188.60" stroke="#C2C2C2" stroke-width="1.2" />
<line x1="1322.00" y1="1096.00" x2="2034.80" y2="1096.00" stroke="#C2C2C2" stroke-width="1.2" />
<line x1="1322.00" y1="1003.40" x2="2034.80" y2="1003.40" stroke="#C2C2C2" stroke-width="1.2" />
<line x1="1325.60" y1="1373.80" x2="2034.80" y2="1373.80" stroke="#000" stroke-width="3" />
<text x="1297.27" y="1382.80" font-size="25.00" font-weight="normal" font-style="normal" fill="#333333" textLength="13.90" lengthAdjust="spacingAndGlyphs" >0</text>
<text x="1283.44" y="1290.20" font-size="25.00" font-weight="normal" font-style="normal" fill="#333333" textLength="27.81" lengthAdjust="spacingAndGlyphs" >25</text>
<text x="1283.37" y="1197.60" font-size="25.00" font-weight="normal" font-style="normal" fill="#333333" textLength="27.81" lengthAdjust="spacingAndGlyphs" >50</text>
<text x="1283.44" y="1105.00" font-size="25.00" font-weight="normal" font-style="normal" fill="#333333" textLength="27.81" lengthAdjust="spacingAndGlyphs" >75</text>
<text x="1269.47" y="1012.40" font-size="25.00" font-weight="normal" font-style="normal" fill="#333333" textLength="41.71" lengthAdjust="spacingAndGlyphs" >100</text>
<text x="1361.73" y="1404.70" font-size="24.80" font-weight="normal" font-style="normal" fill="#333333" textLength="63.43" lengthAdjust="spacingAndGlyphs" >18-19</text>
<text x="1476.03" y="1404.70" font-size="24.80" font-weight="normal" font-style="normal" fill="#333333" textLength="63.43" lengthAdjust="spacingAndGlyphs" >19-20</text>
<text x="1590.07" y="1404.70" font-size="24.80" font-weight="normal" font-style="normal" fill="#333333" textLength="63.43" lengthAdjust="spacingAndGlyphs" >20-21</text>
<text x="1705.49" y="1404.70" font-size="24.80" font-weight="normal" font-style="normal" fill="#333333" textLength="63.43" lengthAdjust="spacingAndGlyphs" >21-22</text>
<text x="1820.11" y="1404.70" font-size="24.80" font-weight="normal" font-style="normal" fill="#333333" textLength="63.43" lengthAdjust="spacingAndGlyphs" >22-23</text>
<text x="1934.63" y="1404.70" font-size="24.80" font-weight="normal" font-style="normal" fill="#333333" textLength="63.43" lengthAdjust="spacingAndGlyphs" >23-24</text>
<polyline points="1737.20,1277.50 1851.90,1136.74 1966.60,1292.31" fill="none" stroke="#000" stroke-width="7.8" stroke-linejoin="round" stroke-linecap="round" />
<circle cx="1737.20" cy="1277.50" r="7.5" fill="#000"/>
<circle cx="1851.90" cy="1136.74" r="7.5" fill="#000"/>
<circle cx="1966.60" cy="1292.31" r="7.5" fill="#000"/>
<text x="1390.45" y="1492.10" font-size="38.66" font-weight="normal" font-style="normal" fill="#0000CD" textLength="114.91" lengthAdjust="spacingAndGlyphs" >Offense</text>
<text x="1536.80" y="1492.10" font-size="38.66" font-weight="normal" font-style="normal" fill="#000" textLength="30.30" lengthAdjust="spacingAndGlyphs" >vs</text>
<text x="1588.97" y="1492.10" font-size="38.66" font-weight="normal" font-style="normal" fill="#E4000F" textLength="119.46" lengthAdjust="spacingAndGlyphs" >Defense</text>
<text x="1735.70" y="1492.10" font-size="38.66" font-weight="normal" font-style="normal" fill="#000" textLength="30.30" lengthAdjust="spacingAndGlyphs" >vs</text>
<text x="1786.26" y="1492.10" font-size="38.66" font-weight="normal" font-style="normal" fill="#7EC0E0" textLength="133.49" lengthAdjust="spacingAndGlyphs" >Finishing</text>
<line x1="1322.00" y1="1798.55" x2="2034.80" y2="1798.55" stroke="#C2C2C2" stroke-width="1.2" />
<line x1="1322.00" y1="1707.20" x2="2034.80" y2="1707.20" stroke="#C2C2C2" stroke-width="1.2" />
<line x1="1322.00" y1="1615.85" x2="2034.80" y2="1615.85" stroke="#C2C2C2" stroke-width="1.2" />
<line x1="1322.00" y1="1524.50" x2="2034.80" y2="1524.50" stroke="#C2C2C2" stroke-width="1.2" />
<line x1="1325.60" y1="1889.90" x2="2034.80" y2="1889.90" stroke="#000" stroke-width="3" />
<text x="1297.27" y="1898.90" font-size="25.00" font-weight="normal" font-style="normal" fill="#333333" textLength="13.90" lengthAdjust="spacingAndGlyphs" >0</text>
<text x="1283.44" y="1807.55" font-size="25.00" font-weight="normal" font-style="normal" fill="#333333" textLength="27.81" lengthAdjust="spacingAndGlyphs" >25</text>
<text x="1283.37" y="1716.20" font-size="25.00" font-weight="normal" font-style="normal" fill="#333333" textLength="27.81" lengthAdjust="spacingAndGlyphs" >50</text>
<text x="1283.44" y="1624.85" font-size="25.00" font-weight="normal" font-style="normal" fill="#333333" textLength="27.81" lengthAdjust="spacingAndGlyphs" >75</text>
<text x="1269.47" y="1533.50" font-size="25.00" font-weight="normal" font-style="normal" fill="#333333" textLength="41.71" lengthAdjust="spacingAndGlyphs" >100</text>
<text x="1361.73" y="1920.90" font-size="24.80" font-weight="normal" font-style="normal" fill="#333333" textLength="63.43" lengthAdjust="spacingAndGlyphs" >18-19</text>
<text x="1476.03" y="1920.90" font-size="24.80" font-weight="normal" font-style="normal" fill="#333333" textLength="63.43" lengthAdjust="spacingAndGlyphs" >19-20</text>
<text x="1590.07" y="1920.90" font-size="24.80" font-weight="normal" font-style="normal" fill="#333333" textLength="63.43" lengthAdjust="spacingAndGlyphs" >20-21</text>
<text x="1705.49" y="1920.90" font-size="24.80" font-weight="normal" font-style="normal" fill="#333333" textLength="63.43" lengthAdjust="spacingAndGlyphs" >21-22</text>
<text x="1820.11" y="1920.90" font-size="24.80" font-weight="normal" font-style="normal" fill="#333333" textLength="63.43" lengthAdjust="spacingAndGlyphs" >22-23</text>
<text x="1934.63" y="1920.90" font-size="24.80" font-weight="normal" font-style="normal" fill="#333333" textLength="63.43" lengthAdjust="spacingAndGlyphs" >23-24</text>
<polyline points="1737.20,1703.55 1851.90,1853.36 1966.60,1813.17" fill="none" stroke="#7EC0E0" stroke-width="7.8" stroke-linejoin="round" stroke-linecap="round" />
<circle cx="1737.20" cy="1703.55" r="7.5" fill="#7EC0E0"/>
<circle cx="1851.90" cy="1853.36" r="7.5" fill="#7EC0E0"/>
<circle cx="1966.60" cy="1813.17" r="7.5" fill="#7EC0E0"/>
<polyline points="1737.20,1849.71 1851.90,1645.08 1966.60,1604.89" fill="none" stroke="#F00000" stroke-width="7.8" stroke-linejoin="round" stroke-linecap="round" />
<circle cx="1737.20" cy="1849.71" r="7.5" fill="#F00000"/>
<circle cx="1851.90" cy="1645.08" r="7.5" fill="#F00000"/>
<circle cx="1966.60" cy="1604.89" r="7.5" fill="#F00000"/>
<polyline points="1737.20,1615.85 1851.90,1674.31 1966.60,1864.32" fill="none" stroke="#0000DD" stroke-width="7.8" stroke-linejoin="round" stroke-linecap="round" />
<circle cx="1737.20" cy="1615.85" r="7.5" fill="#0000DD"/>
<circle cx="1851.90" cy="1674.31" r="7.5" fill="#0000DD"/>
<circle cx="1966.60" cy="1864.32" r="7.5" fill="#0000DD"/>
<text x="2485.53" y="300.70" font-size="39.24" font-weight="normal" font-style="normal" fill="#000" textLength="165.15" lengthAdjust="spacingAndGlyphs" >Style Trend</text>
<line x1="2152.00" y1="1113.10" x2="2983.60" y2="1113.10" stroke="#C4C4C4" stroke-width="1.2" />
<line x1="2152.00" y1="863.10" x2="2983.60" y2="863.10" stroke="#C4C4C4" stroke-width="1.2" />
<line x1="2152.00" y1="613.10" x2="2983.60" y2="613.10" stroke="#C4C4C4" stroke-width="1.2" />
<line x1="2152.00" y1="363.10" x2="2983.60" y2="363.10" stroke="#C4C4C4" stroke-width="1.2" />
<text x="2123.73" y="1372.60" font-size="24.50" font-weight="normal" font-style="normal" fill="#3C3C3C" textLength="13.63" lengthAdjust="spacingAndGlyphs" >0</text>
<text x="2110.18" y="1122.60" font-size="24.50" font-weight="normal" font-style="normal" fill="#3C3C3C" textLength="27.25" lengthAdjust="spacingAndGlyphs" >25</text>
<text x="2110.11" y="872.60" font-size="24.50" font-weight="normal" font-style="normal" fill="#3C3C3C" textLength="27.25" lengthAdjust="spacingAndGlyphs" >50</text>
<text x="2110.18" y="622.60" font-size="24.50" font-weight="normal" font-style="normal" fill="#3C3C3C" textLength="27.25" lengthAdjust="spacingAndGlyphs" >75</text>
<text x="2096.48" y="372.60" font-size="24.50" font-weight="normal" font-style="normal" fill="#3C3C3C" textLength="40.88" lengthAdjust="spacingAndGlyphs" >100</text>
<text x="2143.67" y="1398.50" font-size="24.50" font-weight="normal" font-style="normal" fill="#3C3C3C" textLength="62.66" lengthAdjust="spacingAndGlyphs" >21-22</text>
<text x="2388.89" y="1398.50" font-size="24.50" font-weight="normal" font-style="normal" fill="#3C3C3C" textLength="62.66" lengthAdjust="spacingAndGlyphs" >22-23</text>
<text x="2634.01" y="1398.50" font-size="24.50" font-weight="normal" font-style="normal" fill="#3C3C3C" textLength="62.66" lengthAdjust="spacingAndGlyphs" >23-24</text>
<polyline points="2175.00,522.10 2420.30,472.10 2665.60,463.10" fill="none" stroke="#E9EEE3" stroke-width="7" stroke-linejoin="round" stroke-linecap="round" />
<circle cx="2175.00" cy="522.10" r="7.8" fill="#E9EEE3"/>
<circle cx="2420.30" cy="472.10" r="7.8" fill="#E9EEE3"/>
<circle cx="2665.60" cy="463.10" r="7.8" fill="#E9EEE3"/>
<polyline points="2175.00,1243.10 2420.30,1283.10 2665.60,1273.10" fill="none" stroke="#E3EBE8" stroke-width="7" stroke-linejoin="round" stroke-linecap="round" />
<circle cx="2175.00" cy="1243.10" r="7.8" fill="#E3EBE8"/>
<circle cx="2420.30" cy="1283.10" r="7.8" fill="#E3EBE8"/>
<circle cx="2665.60" cy="1273.10" r="7.8" fill="#E3EBE8"/>
<polyline points="2175.00,1253.10 2420.30,1285.10 2665.60,1343.60" fill="none" stroke="#DDEDE8" stroke-width="7" stroke-linejoin="round" stroke-linecap="round" />
<circle cx="2175.00" cy="1253.10" r="7.8" fill="#DDEDE8"/>
<circle cx="2420.30" cy="1285.10" r="7.8" fill="#DDEDE8"/>
<circle cx="2665.60" cy="1343.60" r="7.8" fill="#DDEDE8"/>
<polyline points="2175.00,663.10 2420.30,723.10 2665.60,543.10" fill="none" stroke="#8C5A1E" stroke-width="7" stroke-linejoin="round" stroke-linecap="round" />
<circle cx="2175.00" cy="663.10" r="7.8" fill="#8C5A1E"/>
<circle cx="2420.30" cy="723.10" r="7.8" fill="#8C5A1E"/>
<circle cx="2665.60" cy="543.10" r="7.8" fill="#8C5A1E"/>
<polyline points="2175.00,743.10 2420.30,933.10 2665.60,703.10" fill="none" stroke="#E2A113" stroke-width="7" stroke-linejoin="round" stroke-linecap="round" />
<circle cx="2175.00" cy="743.10" r="7.8" fill="#E2A113"/>
<circle cx="2420.30" cy="933.10" r="7.8" fill="#E2A113"/>
<circle cx="2665.60" cy="703.10" r="7.8" fill="#E2A113"/>
<polyline points="2175.00,863.10 2420.30,1013.10 2665.60,803.10" fill="none" stroke="#6353A2" stroke-width="7" stroke-linejoin="round" stroke-linecap="round" />
<circle cx="2175.00" cy="863.10" r="7.8" fill="#6353A2"/>
<circle cx="2420.30" cy="1013.10" r="7.8" fill="#6353A2"/>
<circle cx="2665.60" cy="803.10" r="7.8" fill="#6353A2"/>
<polyline points="2175.00,1183.10 2420.30,1123.10 2665.60,1273.10" fill="none" stroke="#525252" stroke-width="7" stroke-linejoin="round" stroke-linecap="round" />
<circle cx="2175.00" cy="1183.10" r="7.8" fill="#525252"/>
<circle cx="2420.30" cy="1123.10" r="7.8" fill="#525252"/>
<circle cx="2665.60" cy="1273.10" r="7.8" fill="#525252"/>
<polyline points="2175.00,1263.10 2420.30,1223.10 2665.60,1333.10" fill="none" stroke="#C64F12" stroke-width="7" stroke-linejoin="round" stroke-linecap="round" />
<circle cx="2175.00" cy="1263.10" r="7.8" fill="#C64F12"/>
<circle cx="2420.30" cy="1223.10" r="7.8" fill="#C64F12"/>
<circle cx="2665.60" cy="1333.10" r="7.8" fill="#C64F12"/>
<line x1="2665.60" y1="463.10" x2="2776.60" y2="463.00" stroke="#4E9A22" stroke-width="2.0" />
<line x1="2665.60" y1="1273.10" x2="2856.50" y2="1250.30" stroke="#6A6A6A" stroke-width="2.0" />
<line x1="2665.60" y1="1343.60" x2="2846.00" y2="1363.30" stroke="#218A5E" stroke-width="2.0" />
<line x1="2665.60" y1="543.10" x2="2699.10" y2="543.00" stroke="#8C5A1E" stroke-width="2.0" />
<line x1="2665.60" y1="703.10" x2="2766.40" y2="703.00" stroke="#E2A113" stroke-width="2.0" />
<line x1="2665.60" y1="803.10" x2="2776.60" y2="803.00" stroke="#6353A2" stroke-width="2.0" />
<line x1="2665.60" y1="1273.10" x2="2870.40" y2="1193.60" stroke="#4D4D4D" stroke-width="2.0" />
<line x1="2665.60" y1="1333.10" x2="2854.10" y2="1306.70" stroke="#C64F12" stroke-width="2.0" />
<rect x="2777.35" y="445.55" width="196.70" height="35.20" fill="#fff" stroke="#4E9A22" stroke-width="1.5" rx="5" />
<text x="2785.84" y="471.95" font-size="24.30" font-weight="normal" font-style="normal" fill="#4E9A22" textLength="179.31" lengthAdjust="spacingAndGlyphs" >Long Distribution</text>
<rect x="2857.25" y="1232.35" width="108.00" height="35.60" fill="#fff" stroke="#6A6A6A" stroke-width="1.5" rx="5" />
<text x="2866.49" y="1258.95" font-size="24.30" font-weight="normal" font-style="normal" fill="#6A6A6A" textLength="89.84" lengthAdjust="spacingAndGlyphs" >Carrying</text>
<rect x="2857.25" y="1346.45" width="108.00" height="34.90" fill="#fff" stroke="#218A5E" stroke-width="1.5" rx="5" />
<text x="2866.49" y="1372.70" font-size="24.30" font-weight="normal" font-style="normal" fill="#218A5E" textLength="89.85" lengthAdjust="spacingAndGlyphs" >Creation</text>
<rect x="2699.85" y="525.45" width="274.40" height="35.20" fill="#fff" stroke="#8C5A1E" stroke-width="1.5" rx="5" />
<text x="2708.36" y="551.85" font-size="24.30" font-weight="normal" font-style="normal" fill="#8C5A1E" textLength="255.62" lengthAdjust="spacingAndGlyphs" >Possession Involvement</text>
<rect x="2767.15" y="685.35" width="207.10" height="35.50" fill="#fff" stroke="#E2A113" stroke-width="1.5" rx="5" />
<text x="2775.66" y="711.90" font-size="24.30" font-weight="normal" font-style="normal" fill="#E2A113" textLength="188.19" lengthAdjust="spacingAndGlyphs" >Passing Accuracy</text>
<rect x="2777.35" y="785.35" width="196.90" height="35.50" fill="#fff" stroke="#6353A2" stroke-width="1.5" rx="5" />
<text x="2785.84" y="811.90" font-size="24.30" font-weight="normal" font-style="normal" fill="#6353A2" textLength="179.52" lengthAdjust="spacingAndGlyphs" >Defensive Action</text>
<rect x="2871.15" y="1175.15" width="79.70" height="35.60" fill="#fff" stroke="#4D4D4D" stroke-width="1.5" rx="5" />
<text x="2880.52" y="1201.75" font-size="24.30" font-weight="normal" font-style="normal" fill="#4D4D4D" textLength="60.74" lengthAdjust="spacingAndGlyphs" >Shots</text>
<rect x="2854.85" y="1289.35" width="112.30" height="35.30" fill="#fff" stroke="#C64F12" stroke-width="1.5" rx="5" />
<text x="2864.09" y="1315.80" font-size="24.30" font-weight="normal" font-style="normal" fill="#C64F12" textLength="94.15" lengthAdjust="spacingAndGlyphs" >Crossing</text>
<line x1="2152.00" y1="1363.10" x2="2984.40" y2="1363.10" stroke="#000" stroke-width="3" />
<text x="2533.43" y="1485.40" font-size="36.92" font-weight="normal" font-style="normal" fill="#000" textLength="215.64" lengthAdjust="spacingAndGlyphs" >Similar Players</text>
<rect x="2331.40" y="1529.40" width="560.50" height="41.20" fill="#FA8282" stroke="#000" stroke-width="2.8" rx="0" />
<rect x="2854.80" y="1532.80" width="76.00" height="34.60" fill="#fff" stroke="#000" stroke-width="1.6" rx="5" />
<text x="2864.57" y="1559.00" font-size="21.00" font-weight="normal" font-style="normal" fill="#111" textLength="56.24" lengthAdjust="spacingAndGlyphs" >99.2%</text>
<text x="2113.70" y="1546.00" font-size="27.91" font-weight="normal" font-style="normal" fill="#000" textLength="172.32" lengthAdjust="spacingAndGlyphs" >Santiago Bueno</text>
<text x="2096.26" y="1575.80" font-size="27.91" font-weight="normal" font-style="normal" fill="#000" textLength="190.28" lengthAdjust="spacingAndGlyphs" >(Wolverhampton)</text>
<rect x="2331.40" y="1613.40" width="552.10" height="41.20" fill="#FA8282" stroke="#000" stroke-width="2.8" rx="0" />
<rect x="2846.40" y="1616.80" width="76.00" height="34.60" fill="#fff" stroke="#000" stroke-width="1.6" rx="5" />
<text x="2856.17" y="1643.00" font-size="21.00" font-weight="normal" font-style="normal" fill="#111" textLength="56.24" lengthAdjust="spacingAndGlyphs" >97.8%</text>
<text x="2109.26" y="1630.00" font-size="27.91" font-weight="normal" font-style="normal" fill="#000" textLength="176.63" lengthAdjust="spacingAndGlyphs" >Kostas Manolas</text>
<text x="2144.46" y="1659.80" font-size="27.91" font-weight="normal" font-style="normal" fill="#000" textLength="142.08" lengthAdjust="spacingAndGlyphs" >(Salernitana)</text>
<rect x="2331.40" y="1697.40" width="552.10" height="41.20" fill="#FA8282" stroke="#000" stroke-width="2.8" rx="0" />
<rect x="2846.40" y="1700.80" width="76.00" height="34.60" fill="#fff" stroke="#000" stroke-width="1.6" rx="5" />
<text x="2856.17" y="1727.00" font-size="21.00" font-weight="normal" font-style="normal" fill="#111" textLength="56.24" lengthAdjust="spacingAndGlyphs" >97.8%</text>
<text x="2113.68" y="1714.00" font-size="27.91" font-weight="normal" font-style="normal" fill="#000" textLength="172.96" lengthAdjust="spacingAndGlyphs" >Gerzino Nyamsi</text>
<text x="2148.16" y="1743.80" font-size="27.91" font-weight="normal" font-style="normal" fill="#000" textLength="138.39" lengthAdjust="spacingAndGlyphs" >(Strasbourg)</text>
<rect x="2331.40" y="1781.40" width="548.70" height="41.20" fill="#FA8282" stroke="#000" stroke-width="2.8" rx="0" />
<rect x="2843.00" y="1784.80" width="76.00" height="34.60" fill="#fff" stroke="#000" stroke-width="1.6" rx="5" />
<text x="2852.77" y="1811.00" font-size="21.00" font-weight="normal" font-style="normal" fill="#111" textLength="56.24" lengthAdjust="spacingAndGlyphs" >97.2%</text>
<text x="2134.67" y="1798.00" font-size="27.91" font-weight="normal" font-style="normal" fill="#000" textLength="151.90" lengthAdjust="spacingAndGlyphs" >Craig Dawson</text>
<text x="2096.66" y="1827.80" font-size="27.91" font-weight="normal" font-style="normal" fill="#000" textLength="189.87" lengthAdjust="spacingAndGlyphs" >(Wolverhampton)</text>
<rect x="2331.40" y="1865.40" width="545.80" height="41.20" fill="#FA8282" stroke="#000" stroke-width="2.8" rx="0" />
<rect x="2840.10" y="1868.80" width="76.00" height="34.60" fill="#fff" stroke="#000" stroke-width="1.6" rx="5" />
<text x="2849.87" y="1895.00" font-size="21.00" font-weight="normal" font-style="normal" fill="#111" textLength="56.24" lengthAdjust="spacingAndGlyphs" >96.7%</text>
<text x="2150.10" y="1882.00" font-size="27.91" font-weight="normal" font-style="normal" fill="#000" textLength="135.53" lengthAdjust="spacingAndGlyphs" >Stefan Savic</text>
<text x="2100.92" y="1911.80" font-size="27.91" font-weight="normal" font-style="normal" fill="#000" textLength="185.66" lengthAdjust="spacingAndGlyphs" >(Atletico Madrid)</text>
<text x="60.13" y="1990.00" font-size="27.91" font-weight="normal" font-style="italic" fill="#000" textLength="353.83" lengthAdjust="spacingAndGlyphs" >Source: Understat, Opta via FBref</text>
<text x="60.06" y="2029.60" font-size="27.91" font-weight="normal" font-style="italic" fill="#000" textLength="2893.23" lengthAdjust="spacingAndGlyphs" >Notes: Created by @macro_football on 2024-06-01. All percentiles and metrics are relative to all players in the top 5 European leagues. Overall is the player's expected points above replacement (xPAR) percentile. Offense and Defense Impact percentiles and Z-Scores are</text>
<text x="59.71" y="2069.60" font-size="27.91" font-weight="normal" font-style="italic" fill="#000" textLength="2876.38" lengthAdjust="spacingAndGlyphs" >the player's isolated impact on xGF and xGA (or GF and GA) per 90, controlling for teammates, opposition players, managers, score, situation, etc..., scaled relative to European Top 5 League average. Finishing (or Saving) Impact percentiles and Z-Scores are the player's</text>
<text x="60.41" y="2109.60" font-size="27.91" font-weight="normal" font-style="italic" fill="#000" textLength="2901.75" lengthAdjust="spacingAndGlyphs" >impact on shot xG, relative to European Top 5 League average. Shot (or xG) Share is the share of the team's shots (or xG) that the player takes when on the field. Usage is the share of the team's xG that the player is responsible for when on the field via either shots or shot</text>
<text x="60.25" y="2149.60" font-size="27.91" font-weight="normal" font-style="italic" fill="#000" textLength="2900.65" lengthAdjust="spacingAndGlyphs" >assists. Individual characteristics (i.e. dribbling and creating) are based on a dimensionality reduction of each player's micro-statistics (i.e. short pass attempts and interceptions). Player types (i.e. ball-playing defender) are based on a clustering analysis of every player's</text>
<text x="60.41" y="2189.60" font-size="27.91" font-weight="normal" font-style="italic" fill="#000" textLength="998.29" lengthAdjust="spacingAndGlyphs" >individual characteristics. Player similarity scores are based on the same clustering analysis.</text>
</svg></body></html>
